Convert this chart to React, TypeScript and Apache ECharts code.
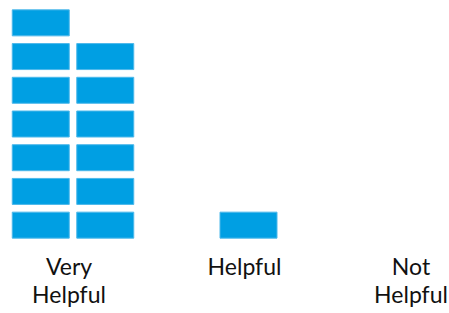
import React, { useEffect, useRef } from "react";
import * as echarts from "echarts";

const categories = ["Very\nHelpful", "Helpful", "Not\nHelpful"];
// blocks stacked in each column of each category
const veryHelpfulColumns = [7, 6];
const helpfulColumns = [1];
const notHelpfulColumns: number[] = [];
const columnsByCategory = [veryHelpfulColumns, helpfulColumns, notHelpfulColumns];
const maxRows = 7;

const BLOCK_W = 57;
const BLOCK_H = 26;
const COL_STEP = 64.5;
const X_SHIFT = 4;
const COLOR = "#009FE3";
const FONT = { fontFamily: "Lato", fontSize: 23, lineHeight: 28, color: "#111" };

export default function App() {
  const ref = useRef<HTMLDivElement>(null);
  useEffect(() => {
    if (!ref.current) return;
    const chart = echarts.init(ref.current, null, { renderer: "svg" });
    const data: number[][] = [];
    columnsByCategory.forEach((cols, ci) => {
      cols.forEach((count, k) => {
        for (let r = 0; r < count; r++) data.push([ci, k, cols.length, r]);
      });
    });
    chart.setOption({
      animation: false,
      grid: { left: -18.75, width: 526.5, top: 6, bottom: 71, outerBoundsMode: "none", containLabel: false },
      xAxis: {
        type: "category",
        data: categories,
        axisLine: { show: false },
        axisTick: { show: false },
        splitLine: { show: false },
        axisLabel: {
          interval: 0,
          margin: 9.5,
          ...FONT,
          formatter: (v: string, i: number) => (i === 2 ? v.split("\n").map((s) => `{last|${s}}`).join("\n") : v),
          rich: { last: { padding: [0, 18, 0, 0], ...FONT } },
        },
      },
      yAxis: { type: "value", min: 0, max: maxRows, show: false },
      series: [
        {
          type: "custom",
          data,
          renderItem: (params: any, api: any) => {
            const ci = api.value(0);
            const k = api.value(1);
            const n = api.value(2);
            const r = api.value(3);
            const p = api.coord([ci, r + 0.5]);
            const cx = p[0] + X_SHIFT + (k - (n - 1) / 2) * COL_STEP;
            return {
              type: "rect",
              shape: { x: cx - BLOCK_W / 2, y: p[1] - BLOCK_H / 2, width: BLOCK_W, height: BLOCK_H },
              style: { fill: COLOR, stroke: "#4DB8EA", lineWidth: 1 },
            };
          },
        },
      ],
    });
    return () => chart.dispose();
  }, []);
  return (
    <div
      ref={ref}
      style={{ position: "fixed", left: 0, top: 0, width: 449, height: 313, background: "#fff" }}
    />
  );
}
